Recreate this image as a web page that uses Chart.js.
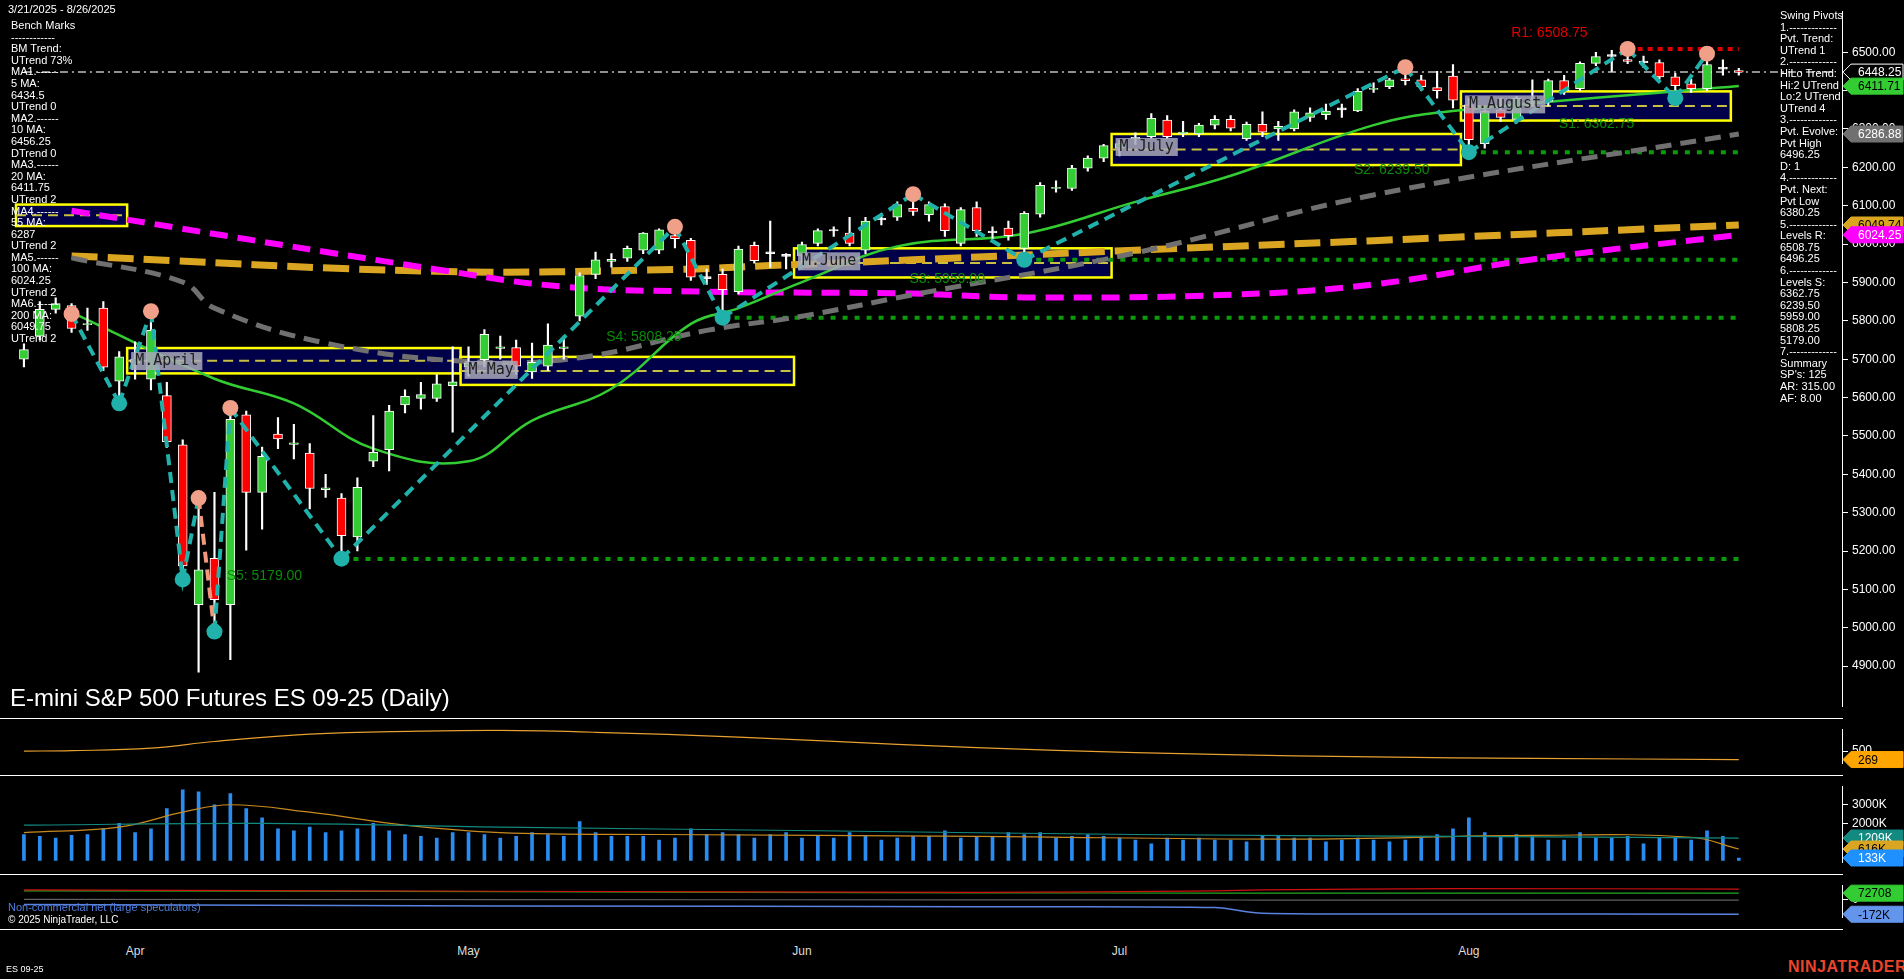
<!DOCTYPE html>
<html><head><meta charset="utf-8">
<script src="https://cdn.jsdelivr.net/npm/chart.js@4"></script>
<style>
html,body{margin:0;padding:0;background:#000;width:1904px;height:979px;overflow:hidden;font-family:"Liberation Sans",Arial,sans-serif;}
canvas{position:absolute;left:0;}
.txt{position:absolute;color:#fff;font-size:11px;line-height:11.6px;white-space:pre;}
.sep{position:absolute;left:0;width:1843px;height:0;border-top:1px solid #fff;}
.mon{position:absolute;top:944px;color:#ddd;font-size:12px;transform:translateX(-50%);}
</style></head><body>
<canvas id="c1" width="1904" height="718" style="top:0"></canvas>
<canvas id="c2" width="1904" height="57" style="top:718px"></canvas>
<canvas id="c3" width="1904" height="99" style="top:775px"></canvas>
<canvas id="c4" width="1904" height="55" style="top:874px"></canvas>
<div class="sep" style="top:718px"></div><div class="sep" style="top:775px"></div><div class="sep" style="top:874px"></div><div class="sep" style="top:929px"></div>
<div id="months"></div>
<div class="txt" style="left:8px;top:4px;">3/21/2025 - 8/26/2025</div>
<div class="txt" id="lt" style="left:11px;top:20px;"></div>
<div class="txt" id="rt" style="left:1780px;top:10px;"></div>
<div style="position:absolute;left:10px;top:684px;color:#fff;font-size:24px;">E-mini S&amp;P 500 Futures ES 09-25 (Daily)</div>
<div class="txt" style="left:8px;top:902px;color:#4f7fe0;">Non-commercial net (large speculators)</div>
<div class="txt" style="left:8px;top:914px;font-size:10px;">© 2025 NinjaTrader, LLC</div>
<div class="txt" style="left:6px;top:964px;font-size:9px;">ES 09-25</div>
<div style="position:absolute;left:1788px;top:958px;color:#e8452c;font-size:16px;font-weight:bold;letter-spacing:0.5px;">NINJATRADER</div>
<script>
const dates=["3/21","3/24","3/25","3/26","3/27","3/28","3/31","4/1","4/2","4/3","4/4","4/7","4/8","4/9","4/10","4/11","4/14","4/15","4/16","4/17","4/21","4/22","4/23","4/24","4/25","4/28","4/29","4/30","5/1","5/2","5/5","5/6","5/7","5/8","5/9","5/12","5/13","5/14","5/15","5/16","5/19","5/20","5/21","5/22","5/23","5/27","5/28","5/29","5/30","6/2","6/3","6/4","6/5","6/6","6/9","6/10","6/11","6/12","6/13","6/16","6/17","6/18","6/20","6/23","6/24","6/25","6/26","6/27","6/30","7/1","7/2","7/3","7/7","7/8","7/9","7/10","7/11","7/14","7/15","7/16","7/17","7/18","7/21","7/22","7/23","7/24","7/25","7/28","7/29","7/30","7/31","8/1","8/4","8/5","8/6","8/7","8/8","8/11","8/12","8/13","8/14","8/15","8/18","8/19","8/20","8/21","8/22","8/25","8/26"];
const monthTicks={"4/1":"Apr","5/1":"May","6/2":"Jun","7/1":"Jul","8/1":"Aug"};
const open=[5700,5760,5830,5840,5790,5833,5643,5690,5648,5605,5477,5060,5181,5060,5555,5353,5505,5478,5455,5360,5338,5237,5434,5464,5581,5598,5598,5631,5680,5699,5728,5730,5667,5682,5728,5812,5921,5955,5963,5984,5984,6022,6010,5910,5921,5876,5997,5975,5968,5969,6002,6035,6029,5984,6063,6070,6093,6077,6098,6002,6095,6030,6042,5989,6078,6145,6145,6198,6224,6250,6275,6280,6323,6288,6287,6310,6325,6275,6312,6300,6300,6330,6337,6350,6347,6403,6410,6431,6428,6408,6438,6363,6262,6350,6325,6372,6372,6426,6405,6471,6489,6481,6473,6473,6436,6418,6405,6456,6452];
const high=[5740,5850,5860,5845,5833,5850,5720,5745,5825,5640,5490,5338,5353,5573,5565,5471,5548,5530,5480,5400,5350,5391,5553,5580,5620,5640,5660,5732,5732,5777,5760,5750,5742,5792,5760,5925,5979,5975,5995,6030,6040,6045,6015,5935,5935,5995,6005,6060,5975,6005,6040,6045,6070,6070,6080,6110,6130,6110,6105,6095,6110,6045,6060,6085,6160,6165,6205,6230,6260,6270,6290,6340,6335,6320,6315,6335,6335,6318,6345,6320,6350,6355,6365,6365,6405,6420,6432,6461,6440,6450,6468,6380,6350,6380,6385,6428,6430,6440,6475,6500,6505,6508.75,6490,6480,6445,6430,6496,6480,6458];
const low=[5680,5750,5820,5770,5775,5670,5585,5648,5620,5470,5131,4884,4992,4917,5202,5257,5467,5440,5310,5340,5180,5200,5420,5409,5560,5570,5590,5510,5656,5680,5700,5660,5650,5670,5700,5800,5910,5940,5955,5975,5975,5990,5905,5895,5808,5870,5950,5939,5935,5950,5995,6020,5995,5975,6050,6062,6075,6060,6020,5995,6020,6015,6010,5959,6070,6135,6140,6190,6215,6230,6260,6275,6275,6280,6280,6300,6295,6270,6280,6270,6295,6320,6325,6330,6345,6395,6405,6415,6400,6380,6355,6239,6250,6320,6315,6360,6360,6390,6400,6465,6450,6470,6460,6430,6380,6395,6400,6440,6440];
const close=[5725,5830,5845,5780,5793,5679,5706,5700,5775,5485,5161,5151,5073,5543,5353,5447,5492,5482,5363,5365,5240,5366,5457,5565,5603,5608,5636,5641,5690,5765,5732,5682,5692,5737,5732,5918,5959,5960,5989,6029,6037,6014,5914,5912,5881,5987,5957,5977,5970,5999,6035,6034,6002,6060,6065,6103,6085,6103,6035,6090,6035,6031,6022,6080,6153,6148,6198,6224,6257,6262,6278,6328,6280,6292,6310,6325,6302,6312,6292,6307,6345,6342,6347,6352,6398,6406,6428,6426,6410,6400,6375,6272,6347,6330,6380,6378,6426,6400,6471,6489,6491,6476,6474,6436,6413,6405,6468,6458,6448];
const volume=[1400,1300,1200,1350,1400,1700,2000,1500,1700,2800,3800,3700,3000,3600,2800,2300,1700,1600,1800,1500,1600,1700,2000,1600,1400,1300,1200,1500,1500,1400,1200,1300,1500,1400,1300,2100,1500,1300,1300,1300,1100,1200,1700,1400,1500,1400,1200,1400,1500,1200,1300,1200,1500,1300,1100,1200,1300,1300,1600,1200,1300,1300,1500,1400,1500,1200,1300,1400,1300,1200,1100,900,1200,1100,1200,1100,1100,1000,1300,1300,1200,1200,1000,1100,1200,1100,1000,1100,1200,1400,1700,2300,1500,1300,1400,1300,1100,1100,1500,1200,1200,1300,900,1200,1200,1100,1600,1300,133];
const ma20Idx=[3,12,17,22,28,32,37,42,45,49,55,63,70,76,85,90,108];
const ma20Val=[5822,5649,5585,5467,5434,5540,5623,5792,5833,5901,5994,6027,6110,6178,6310,6347,6412];
const ma55Idx=[3,10,12,19,28,35,43,49,56,70,85,108];
const ma55Val=[5964,5901,5833,5742,5694,5704,5775,5812,5868,5977,6128,6287];
const ma100Idx=[3,26,41,47,56,70,85,108];
const ma100Val=[5969,5929,5934,5944,5959,5984,6009,6050];
const ma200Idx=[3,26,34,43,56,63,76,85,95,108];
const ma200Val=[6087,5934,5889,5876,5871,5861,5868,5895,5960,6024];
const pivIdx=[3,6,8,10,11,12,13,20,41,44,56,63,87,91,101,104,106];
const pivVal=[5818,5585,5825,5126,5338,4990,5573,5180,6045,5808.25,6130,5959,6461,6239.5,6508.75,6380.25,6496.25];
const supports=[{name:"S5",v:5179,from:20},{name:"S4",v:5808.25,from:44},{name:"S3",v:5959,from:63},{name:"S2",v:6239.5,from:91}];
const resist={v:6508.75,from:101};
const bmLine=6448.25;
const boxes=[{i0:0,i1:6,lo:6047,hi:6103,label:""},{i0:7,i1:27,lo:5663,hi:5729,label:"M.April"},{i0:28,i1:48,lo:5633,hi:5706,label:"M.May"},{i0:49,i1:68,lo:5913,hi:5989,label:"M.June"},{i0:69,i1:90,lo:6206,hi:6287,label:"M.July"},{i0:91,i1:107,lo:6322,hi:6398,label:"M.August"}];
const notes=[{i:15.6,v:5135,t:"S5: 5179.00",c:"#0a8a0a"},{i:39.5,v:5757,t:"S4: 5808.25",c:"#0a8a0a"},{i:58.6,v:5908,t:"S3: 5959.00",c:"#0a8a0a"},{i:86.6,v:6193,t:"S2: 6239.50",c:"#0a8a0a"},{i:99.5,v:6312,t:"S1: 6362.75",c:"#0a8a0a"},{i:96.5,v:6550,t:"R1: 6508.75",c:"#e00000"}];
const priceTicks=[4900,5000,5100,5200,5300,5400,5500,5600,5700,5800,5900,6000,6100,6200,6300,6400,6500];
const priceTags=[{v:6448.25,bg:"#000",fg:"#fff",bd:"#fff",t:"6448.25"},{v:6411.71,bg:"#33cc33",fg:"#000",bd:"#33cc33",t:"6411.71"},{v:6286.88,bg:"#707070",fg:"#fff",bd:"#707070",t:"6286.88"},{v:6049.74,bg:"#daa520",fg:"#000",bd:"#daa520",t:"6049.74"},{v:6024.25,bg:"#ff00ff",fg:"#fff",bd:"#ff00ff",t:"6024.25"}];
const atrIdx=[0,3,8,12,18,25,30,36,45,55,65,75,85,95,108];
const atrVal=[500,510,580,760,960,1040,1060,1010,880,680,520,410,340,300,269];
const volAvgIdx=[0,6,10,13,18,24,30,40,60,80,95,105,108];
const volAvgVal=[1500,1800,2600,3000,2600,1900,1500,1400,1300,1150,1350,1250,616];
const volLongIdx=[0,15,30,50,70,90,108];
const volLongVal=[1900,2000,1800,1600,1400,1300,1209];
const cotIdx=[0,30,60,75,78,90,108];
const cotNet=[-60000,-75000,-85000,-95000,-160000,-168000,-172000];
const cotGreen=[100000,90000,76000,74000,73000,72000,72708];
const cotRed=[110000,95000,82000,100000,110000,125000,120000];
const cotGray=[0,-2000,-5000,-6000,-7000,-8000,-9000];
const leftText=["Bench Marks","------------","BM Trend:","UTrend 73%","MA1.------","5 MA:","6434.5","UTrend 0","MA2.------","10 MA:","6456.25","DTrend 0","MA3.------","20 MA:","6411.75","UTrend 2","MA4.------","55 MA:","6287","UTrend 2","MA5.------","100 MA:","6024.25","UTrend 2","MA6.------","200 MA:","6049.75","UTrend 2"];
const rightText=["Swing Pivots","1.-------------","Pvt. Trend:","UTrend 1","2.-------------","HiLo Trend:","Hi:2 UTrend","Lo:2 UTrend","UTrend 4","3.-------------","Pvt. Evolve:","Pvt High","6496.25","D: 1","4.-------------","Pvt. Next:","Pvt Low","6380.25","5.-------------","Levels R:","6508.75","6496.25","6.-------------","Levels S:","6362.75","6239.50","5959.00","5808.25","5179.00","7.-------------","Summary","SP's: 125","AR: 315.00","AF: 8.00"];
document.getElementById('lt').textContent=leftText.join("\n");
document.getElementById('rt').textContent=rightText.join("\n");

const NSLOT=115;
const labels=dates.concat(Array(NSLOT-dates.length).fill(""));
function sparse(idx,val){const a=Array(NSLOT).fill(null);idx.forEach((k,j)=>a[k]=val[j]);return a;}
function flat(v,from,to){const a=Array(NSLOT).fill(null);for(let k=from;k<=to;k++)a[k]=v;return a;}
Chart.defaults.font.family='"Liberation Sans",Arial,sans-serif';
Chart.defaults.animation=false;
const yAxisBase=(min,max)=>({position:'right',min,max,afterFit:s=>{s.width=62;},border:{color:'#fff'},grid:{drawOnChartArea:false,color:'#fff',tickLength:6},ticks:{color:'#fff',font:{size:12},padding:4}});
const xHidden={display:false,offset:true,grid:{display:false}};
const lp={padding:{left:16,right:0,top:0,bottom:0}};
function tagPlugin(){return {id:'tags',afterDraw(c,a,o){const ctx=c.ctx,y=c.scales.y,x0=c.chartArea.right;(o.items||[]).forEach(t=>{const py=y.getPixelForValue(t.v);ctx.save();ctx.beginPath();ctx.moveTo(x0+1,py);ctx.lineTo(x0+9,py-8);ctx.lineTo(1903,py-8);ctx.lineTo(1903,py+8);ctx.lineTo(x0+9,py+8);ctx.closePath();ctx.fillStyle=t.bg;ctx.fill();ctx.strokeStyle=t.bd;ctx.lineWidth=1;ctx.stroke();ctx.fillStyle=t.fg;ctx.font='12px "Liberation Sans",Arial';ctx.textBaseline='middle';ctx.fillText(t.t,x0+16,py+1);ctx.restore();});}};}
const tp=tagPlugin();
const boxPlugin={id:'boxes',beforeDatasetsDraw(c,a,o){const ctx=c.ctx,x=c.scales.x,y=c.scales.y;const w=x.getPixelForValue(1)-x.getPixelForValue(0);(o.items||[]).forEach(b=>{const l=x.getPixelForValue(b.i0)-w/2,r=x.getPixelForValue(b.i1)+w/2,t=y.getPixelForValue(b.hi),bt=y.getPixelForValue(b.lo);ctx.save();ctx.fillStyle='#00004a';ctx.fillRect(l,t,r-l,bt-t);ctx.strokeStyle='#ffff00';ctx.lineWidth=2.5;ctx.strokeRect(l,t,r-l,bt-t);ctx.setLineDash([10,6]);ctx.strokeStyle='#c8c040';ctx.lineWidth=2;ctx.beginPath();const m=(t+bt)/2;ctx.moveTo(l,m);ctx.lineTo(r,m);ctx.stroke();ctx.setLineDash([]);ctx.restore();});},
 afterDatasetsDraw(c,a,o){const ctx=c.ctx,x=c.scales.x,y=c.scales.y;const w=x.getPixelForValue(1)-x.getPixelForValue(0);(o.items||[]).forEach(b=>{if(!b.label)return;const l=x.getPixelForValue(b.i0)-w/2,t=y.getPixelForValue(b.hi);ctx.save();ctx.font='15px "DejaVu Sans Mono",monospace';const tw=ctx.measureText(b.label).width;ctx.globalAlpha=0.85;ctx.fillStyle='#a8a8b8';ctx.fillRect(l+4,t+4,tw+8,18);ctx.globalAlpha=1;ctx.fillStyle='#202020';ctx.textBaseline='middle';ctx.fillText(b.label,l+8,t+13);ctx.restore();});
 (o.notes||[]).forEach(n=>{ctx.save();ctx.font='14px "Liberation Sans",Arial';ctx.fillStyle=n.c;ctx.textBaseline='middle';ctx.fillText(n.t,x.getPixelForValue(0)+w*n.i-45,y.getPixelForValue(n.v));ctx.restore();});}};

const bodyLo=open.map((o,i)=>Math.min(o,close[i])),bodyHi=open.map((o,i)=>Math.max(o,close[i])+(Math.abs(o-close[i])<3?3:0));
const bodyCol=open.map((o,i)=>Math.abs(o-close[i])<3?'#ffffff':(close[i]>=o?'#33cc33':'#ff0000'));
const pivots=sparse(pivIdx,pivVal);
const ds1=[
 {type:'line',data:flat(bmLine,0,NSLOT-1),borderColor:'#909090',borderWidth:2,borderDash:[8,4,2,4],pointRadius:0,order:20},
 ...supports.map(s=>({type:'line',data:flat(s.v,s.from,108),borderColor:'#0a9a0a',borderWidth:4,borderDash:[5,7],pointRadius:0,order:19})),
 {type:'line',data:flat(resist.v,resist.from,108),borderColor:'#e00000',borderWidth:4,borderDash:[5,5],pointRadius:0,order:19},
 {type:'line',data:sparse(ma200Idx,ma200Val),spanGaps:true,borderColor:'#ff00ff',borderWidth:6,borderDash:[18,10],pointRadius:0,tension:0.4,order:18},
 {type:'line',data:sparse(ma100Idx,ma100Val),spanGaps:true,borderColor:'#daa520',borderWidth:7,borderDash:[26,10],pointRadius:0,tension:0.4,order:18},
 {type:'line',data:sparse(ma55Idx,ma55Val),spanGaps:true,borderColor:'#707070',borderWidth:5,borderDash:[16,9],pointRadius:0,tension:0.4,order:17},
 {type:'line',data:sparse(ma20Idx,ma20Val),spanGaps:true,borderColor:'#33cc33',borderWidth:2.5,pointRadius:0,tension:0.4,order:16},
 {type:'bar',data:low.map((l,i)=>[l,high[i]]),backgroundColor:'#ffffff',barThickness:1.5,grouped:false,order:5},
 {type:'bar',data:bodyLo.map((l,i)=>[l,bodyHi[i]]),backgroundColor:bodyCol,borderColor:'#ffffff',borderWidth:1,borderSkipped:false,barThickness:9,grouped:false,order:4},
 {type:'line',data:pivots,spanGaps:true,borderWidth:4,borderDash:[11,7],segment:{borderColor:c=>c.p1.parsed.y>c.p0.parsed.y?'#20b2aa':'#f0987c'},
  pointRadius:8,pointBackgroundColor:c=>{const i=c.dataIndex;const j=pivIdx.indexOf(i);if(j<0)return 'transparent';const prev=j>0?pivVal[j-1]:pivVal[j+1];return pivVal[j]>prev?'#f0a088':'#20b2aa';},pointBorderWidth:0,order:1}
];
new Chart(document.getElementById('c1'),{data:{labels,datasets:ds1},options:{responsive:false,devicePixelRatio:1,layout:lp,
 plugins:{legend:{display:false},tooltip:{enabled:false},tags:{items:priceTags},boxes:{items:boxes,notes}},
 scales:{x:xHidden,y:Object.assign(yAxisBase(4794,6607),{afterBuildTicks:s=>{s.ticks=priceTicks.map(v=>({value:v}));},ticks:{color:'#fff',font:{size:12},padding:4,callback:v=>Number(v).toFixed(2)}})}},plugins:[tp,boxPlugin]});

new Chart(document.getElementById('c2'),{data:{labels,datasets:[{type:'line',data:sparse(atrIdx,atrVal),spanGaps:true,borderColor:'#e8a030',borderWidth:1.2,pointRadius:0,tension:0.4}]},
 options:{responsive:false,devicePixelRatio:1,layout:lp,plugins:{legend:{display:false},tags:{items:[{v:269,bg:'#ffa500',fg:'#000',bd:'#ffa500',t:'269'}]}},
 scales:{x:xHidden,y:Object.assign(yAxisBase(153,1094),{afterBuildTicks:s=>{s.ticks=[{value:500}];}})}},plugins:[tp]});

new Chart(document.getElementById('c3'),{data:{labels,datasets:[
 {type:'line',data:sparse(volLongIdx,volLongVal),spanGaps:true,borderColor:'#138a80',borderWidth:1.2,pointRadius:0,tension:0.4},
 {type:'line',data:sparse(volAvgIdx,volAvgVal),spanGaps:true,borderColor:'#c88a20',borderWidth:1.2,pointRadius:0,tension:0.4},
 {type:'bar',data:volume,backgroundColor:'#2a8cf0',barThickness:3}]},
 options:{responsive:false,devicePixelRatio:1,layout:lp,plugins:{legend:{display:false},tags:{items:[{v:1209,bg:'#138a80',fg:'#fff',bd:'#138a80',t:'1209K'},{v:616,bg:'#daa520',fg:'#000',bd:'#daa520',t:'616K'},{v:133,bg:'#1e90ff',fg:'#fff',bd:'#1e90ff',t:'133K'}]}},
 scales:{x:xHidden,y:Object.assign(yAxisBase(-125,4000),{afterBuildTicks:s=>{s.ticks=[{value:2000},{value:3000}];},ticks:{color:'#fff',font:{size:12},padding:4,callback:v=>v+'K'}})}},plugins:[tp]});

const c4=new Chart(document.getElementById('c4'),{data:{labels,datasets:[
 {type:'line',data:sparse(cotIdx,cotGray),spanGaps:true,borderColor:'#606060',borderWidth:1.2,pointRadius:0,tension:0.3},
 {type:'line',data:sparse(cotIdx,cotRed),spanGaps:true,borderColor:'#d01010',borderWidth:1.2,pointRadius:0,tension:0.3},
 {type:'line',data:sparse(cotIdx,cotGreen),spanGaps:true,borderColor:'#22aa22',borderWidth:1.2,pointRadius:0,tension:0.3},
 {type:'line',data:sparse(cotIdx,cotNet),spanGaps:true,borderColor:'#5a82e0',borderWidth:1.5,pointRadius:0,tension:0.3}]},
 options:{responsive:false,devicePixelRatio:1,layout:lp,plugins:{legend:{display:false},tags:{items:[{v:72708,bg:'#33cc33',fg:'#000',bd:'#33cc33',t:'72708'},{v:-172000,bg:'#6495ed',fg:'#000',bd:'#6495ed',t:'-172K'}]}},
 scales:{x:xHidden,y:Object.assign(yAxisBase(-213000,165000),{afterBuildTicks:s=>{s.ticks=[{value:0}];}})}},plugins:[tp]});
const mdiv=document.getElementById('months');
labels.forEach((l,i)=>{if(monthTicks[l]){const d=document.createElement('div');d.className='mon';d.style.left=c4.scales.x.getPixelForValue(i)+'px';d.textContent=monthTicks[l];mdiv.appendChild(d);}});
</script></body></html>
